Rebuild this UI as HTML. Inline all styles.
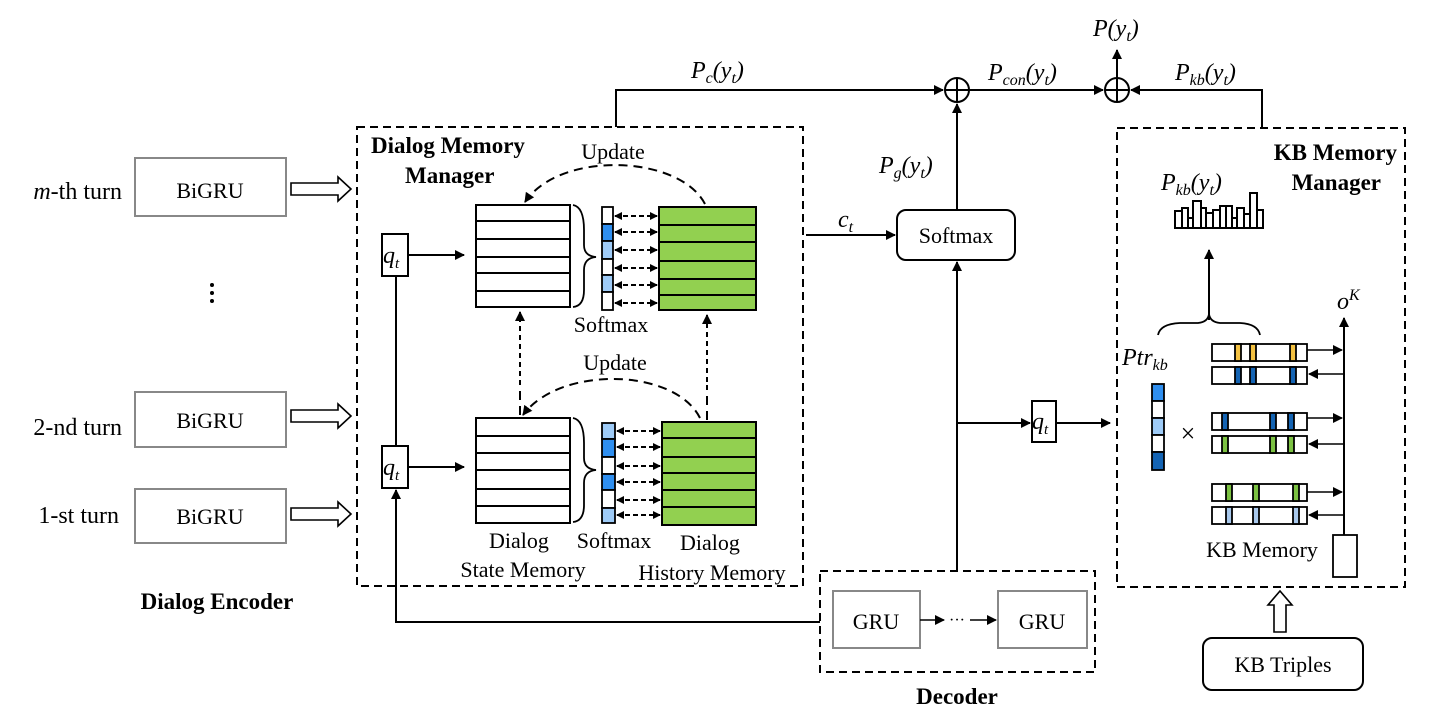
<!DOCTYPE html>
<html><head><meta charset="utf-8"><style>html,body{margin:0;padding:0;background:#fff}svg{display:block}text{font-family:"Liberation Serif",serif;fill:#000}.i{font-style:italic}.b{font-weight:bold}</style></head><body>
<svg width="1430" height="720" viewBox="0 0 1430 720" xmlns="http://www.w3.org/2000/svg">
<defs>
<marker id="a" markerWidth="10" markerHeight="10" refX="9" refY="5" orient="auto" markerUnits="userSpaceOnUse"><path d="M0,0 L10,5 L0,10 z" fill="#000"/></marker>
<marker id="s" markerWidth="8" markerHeight="8" refX="7" refY="4" orient="auto-start-reverse" markerUnits="userSpaceOnUse"><path d="M0,0 L8,4 L0,8 z" fill="#000"/></marker>
</defs>
<g stroke="#000" stroke-width="2" fill="none">
<rect x="357" y="127" width="446" height="459" stroke-dasharray="8,5"/>
<rect x="1117" y="128" width="288" height="459" stroke-dasharray="8,5"/>
<rect x="820" y="571" width="275" height="101" stroke-dasharray="8,5"/>
</g>
<g stroke="#888" stroke-width="2" fill="#fff">
<rect x="135" y="158" width="151" height="58"/>
<rect x="135" y="392" width="151" height="55"/>
<rect x="135" y="489" width="151" height="54"/>
<rect x="833" y="591" width="87" height="57"/>
<rect x="998" y="591" width="89" height="57"/>
</g>
<g font-size="22" text-anchor="middle">
<text x="210" y="198">BiGRU</text><text x="210" y="428">BiGRU</text><text x="210" y="524">BiGRU</text>
<text x="876" y="629">GRU</text><text x="1042" y="629">GRU</text>
</g>
<g font-size="24" text-anchor="end">
<text x="122" y="199"><tspan class="i">m</tspan>-th turn</text>
<text x="122" y="435">2-nd turn</text>
<text x="119" y="523">1-st turn</text>
</g>
<g fill="#000"><circle cx="212" cy="285" r="2"/><circle cx="212" cy="293" r="2"/><circle cx="212" cy="301" r="2"/></g>
<text x="217" y="609" font-size="23" class="b" text-anchor="middle">Dialog Encoder</text>
<text x="957" y="704" font-size="23" class="b" text-anchor="middle">Decoder</text>
<g stroke="#000" stroke-width="1.6" fill="#fff">
<path d="M291,183 H338 V177 L351,189 L338,201 V195 H291 Z"/>
<path d="M291,410 H338 V404 L351,416 L338,428 V422 H291 Z"/>
<path d="M291,508 H338 V502 L351,514 L338,526 V520 H291 Z"/>
<path d="M1274,632 V605 H1268 L1280,591 L1292,605 H1286 V632 Z"/>
</g>
<text x="371" y="153" font-size="23" class="b">Dialog Memory</text>
<text x="405" y="183" font-size="23" class="b">Manager</text>
<g stroke="#000" stroke-width="2" fill="none">
<line x1="396" y1="276" x2="396" y2="446"/>
<polyline points="820,622 396,622 396,490" marker-end="url(#a)"/>
<line x1="409" y1="255" x2="464" y2="255" marker-end="url(#a)"/>
<line x1="409" y1="467" x2="464" y2="467" marker-end="url(#a)"/>
</g>
<g stroke="#000" stroke-width="2" fill="#fff">
<rect x="382" y="234" width="26" height="42"/>
<rect x="382" y="446" width="26" height="42"/>
<rect x="1032" y="401" width="24" height="41"/>
</g>
<g font-size="24" class="i"><text x="383" y="263">q<tspan font-size="15" dy="5">t</tspan></text><text x="383" y="475">q<tspan font-size="15" dy="5">t</tspan></text><text x="1032" y="429">q<tspan font-size="15" dy="5">t</tspan></text></g>
<g stroke="#000" stroke-width="2" fill="#fff">
<rect x="476" y="205" width="94" height="102"/>
<path d="M476,221 H570 M476,239 H570 M476,257 H570 M476,273 H570 M476,291 H570"/>
<rect x="476" y="418" width="94" height="105"/>
<path d="M476,436 H570 M476,453 H570 M476,470 H570 M476,489 H570 M476,506 H570"/>
</g>
<g stroke="#000" stroke-width="1.8" fill="none">
<path d="M573,205 Q584,207 584,230 L584,245 Q584,256 596,257 Q584,258 584,270 L584,290 Q584,306 573,307"/>
<path d="M573,418 Q584,420 584,443 L584,458 Q584,469 596,470 Q584,471 584,483 L584,505 Q584,521 573,522"/>
<path d="M1158,335 Q1160,324 1180,323 L1198,323 Q1208,322 1209,314 Q1210,322 1220,323 L1240,323 Q1258,324 1260,335"/>
</g>
<g stroke="#000" stroke-width="1.8">
<rect x="602" y="207" width="11" height="17" fill="#fff"/><rect x="602" y="224" width="11" height="17" fill="#2f8ff0"/><rect x="602" y="241" width="11" height="18" fill="#9ecbf7"/><rect x="602" y="259" width="11" height="16" fill="#fff"/><rect x="602" y="275" width="11" height="17" fill="#9ecbf7"/><rect x="602" y="292" width="11" height="18" fill="#fff"/>
<rect x="602" y="423" width="13" height="16" fill="#9ecbf7"/><rect x="602" y="439" width="13" height="18" fill="#2f8ff0"/><rect x="602" y="457" width="13" height="17" fill="#fff"/><rect x="602" y="474" width="13" height="16" fill="#2f8ff0"/><rect x="602" y="490" width="13" height="18" fill="#fff"/><rect x="602" y="508" width="13" height="15" fill="#9ecbf7"/>
</g>
<g stroke="#000" stroke-width="2" fill="#92d050">
<rect x="659" y="207" width="97" height="103"/>
<path d="M659,225 H756 M659,242 H756 M659,261 H756 M659,279 H756 M659,295 H756" fill="none"/>
<rect x="662" y="422" width="94" height="103"/>
<path d="M662,438 H756 M662,457 H756 M662,473 H756 M662,490 H756 M662,507 H756" fill="none"/>
</g>
<g stroke="#000" stroke-width="2" stroke-dasharray="5,3" marker-start="url(#s)" marker-end="url(#s)">
<line x1="615" y1="216" x2="657" y2="216"/><line x1="615" y1="232" x2="657" y2="232"/><line x1="615" y1="250" x2="657" y2="250"/><line x1="615" y1="268" x2="657" y2="268"/><line x1="615" y1="285" x2="657" y2="285"/><line x1="615" y1="303" x2="657" y2="303"/>
<line x1="617" y1="431" x2="660" y2="431"/><line x1="617" y1="447" x2="660" y2="447"/><line x1="617" y1="466" x2="660" y2="466"/><line x1="617" y1="482" x2="660" y2="482"/><line x1="617" y1="500" x2="660" y2="500"/><line x1="617" y1="515" x2="660" y2="515"/>
</g>
<g stroke="#000" stroke-width="2" fill="none" stroke-dasharray="9,6">
<path d="M705,204 C680,155 560,150 525,202" marker-end="url(#a)"/>
<path d="M700,418 C675,368 560,365 523,415" marker-end="url(#a)"/>
<line x1="520" y1="415" x2="520" y2="390"/><line x1="520" y1="385" x2="520" y2="312" marker-end="url(#a)" stroke-dasharray="5,4"/>
<line x1="707" y1="420" x2="707" y2="385"/><line x1="707" y1="382" x2="707" y2="315" marker-end="url(#a)" stroke-dasharray="5,4"/>
</g>
<g font-size="22" text-anchor="middle">
<text x="613" y="159">Update</text><text x="615" y="370">Update</text>
<text x="611" y="332">Softmax</text><text x="614" y="548">Softmax</text>
<text x="519" y="548">Dialog</text><text x="523" y="577">State Memory</text>
<text x="710" y="550">Dialog</text><text x="712" y="580">History Memory</text>
</g>
<g stroke="#000" stroke-width="2" fill="none">
<polyline points="616,127 616,90 943,90" marker-end="url(#a)"/>
<circle cx="957" cy="90" r="12"/><path d="M945,90 H969 M957,78 V102"/>
<line x1="969" y1="90" x2="1103" y2="90" marker-end="url(#a)"/>
<circle cx="1117" cy="90" r="12"/><path d="M1105,90 H1129 M1117,78 V102"/>
<line x1="1117" y1="78" x2="1117" y2="50" marker-end="url(#a)"/>
<polyline points="1262,128 1262,90 1131,90" marker-end="url(#a)"/>
<line x1="957" y1="210" x2="957" y2="104" marker-end="url(#a)"/>
<line x1="806" y1="235" x2="895" y2="235" marker-end="url(#a)"/>
<line x1="957" y1="571" x2="957" y2="262" marker-end="url(#a)"/>
<line x1="957" y1="423" x2="1030" y2="423" marker-end="url(#a)"/>
<line x1="1056" y1="423" x2="1110" y2="423" marker-end="url(#a)"/>
<line x1="920" y1="620" x2="944" y2="620" marker-end="url(#a)" stroke-width="1.5"/>
<line x1="970" y1="620" x2="996" y2="620" marker-end="url(#a)" stroke-width="1.5"/>
<line x1="1209" y1="320" x2="1209" y2="250" marker-end="url(#a)"/>
<line x1="1344" y1="535" x2="1344" y2="318" marker-end="url(#a)"/>
</g>
<text x="957" y="625" font-size="16" text-anchor="middle">···</text>
<rect x="897" y="210" width="118" height="50" rx="9" fill="#fff" stroke="#000" stroke-width="2"/>
<text x="956" y="243" font-size="22" text-anchor="middle">Softmax</text>
<g font-size="24" class="i">
<text x="691" y="78">P<tspan font-size="16" dy="5">c</tspan><tspan dy="-5">(y</tspan><tspan font-size="16" dy="5">t</tspan><tspan dy="-5">)</tspan></text>
<text x="988" y="80">P<tspan font-size="16" dy="5">con</tspan><tspan dy="-5">(y</tspan><tspan font-size="16" dy="5">t</tspan><tspan dy="-5">)</tspan></text>
<text x="1093" y="36">P(y<tspan font-size="16" dy="5">t</tspan><tspan dy="-5">)</tspan></text>
<text x="1175" y="80">P<tspan font-size="16" dy="5">kb</tspan><tspan dy="-5">(y</tspan><tspan font-size="16" dy="5">t</tspan><tspan dy="-5">)</tspan></text>
<text x="879" y="173">P<tspan font-size="16" dy="5">g</tspan><tspan dy="-5">(y</tspan><tspan font-size="16" dy="5">t</tspan><tspan dy="-5">)</tspan></text>
<text x="1161" y="190">P<tspan font-size="16" dy="5">kb</tspan><tspan dy="-5">(y</tspan><tspan font-size="16" dy="5">t</tspan><tspan dy="-5">)</tspan></text>
<text x="838" y="227">c<tspan font-size="16" dy="5">t</tspan></text>
<text x="1122" y="365">Ptr<tspan font-size="16" dy="5">kb</tspan></text>
<text x="1337" y="309">o<tspan font-size="16" dy="-9">K</tspan></text>
</g>
<text x="1397" y="160" font-size="23" class="b" text-anchor="end">KB Memory</text>
<text x="1381" y="190" font-size="23" class="b" text-anchor="end">Manager</text>
<g stroke="#000" stroke-width="2" fill="#fff">
<rect x="1175" y="211" width="7" height="17"/><rect x="1182" y="208" width="6" height="20"/><rect x="1188" y="218" width="5" height="10"/><rect x="1193" y="201" width="8" height="27"/><rect x="1201" y="208" width="5" height="20"/><rect x="1206" y="213" width="7" height="15"/><rect x="1213" y="210" width="7" height="18"/><rect x="1220" y="206" width="6" height="22"/><rect x="1226" y="206" width="6" height="22"/><rect x="1232" y="218" width="5" height="10"/><rect x="1237" y="208" width="7" height="20"/><rect x="1244" y="214" width="6" height="14"/><rect x="1250" y="193" width="7" height="35"/><rect x="1257" y="210" width="6" height="18"/>
</g>
<g stroke="#000" stroke-width="1.8">
<rect x="1152" y="384" width="12" height="17" fill="#2f8ff0"/><rect x="1152" y="401" width="12" height="17" fill="#fff"/><rect x="1152" y="418" width="12" height="17" fill="#9ecbf7"/><rect x="1152" y="435" width="12" height="17" fill="#fff"/><rect x="1152" y="452" width="12" height="18" fill="#1464b4"/>
</g>
<text x="1188" y="442" font-size="26" text-anchor="middle">×</text>
<g stroke="#000" stroke-width="1.8">
<rect x="1212" y="344" width="95" height="17" fill="#fff"/><rect x="1235" y="344" width="6" height="17" fill="#f5c242"/><rect x="1250" y="344" width="6" height="17" fill="#f5c242"/><rect x="1290" y="344" width="6" height="17" fill="#f5c242"/>
<rect x="1212" y="367" width="95" height="17" fill="#fff"/><rect x="1235" y="367" width="6" height="17" fill="#1464b4"/><rect x="1250" y="367" width="6" height="17" fill="#1464b4"/><rect x="1290" y="367" width="6" height="17" fill="#1464b4"/>
<rect x="1212" y="413" width="95" height="17" fill="#fff"/><rect x="1222" y="413" width="6" height="17" fill="#1464b4"/><rect x="1270" y="413" width="6" height="17" fill="#1464b4"/><rect x="1288" y="413" width="6" height="17" fill="#1464b4"/>
<rect x="1212" y="436" width="95" height="17" fill="#fff"/><rect x="1222" y="436" width="6" height="17" fill="#7cc242"/><rect x="1270" y="436" width="6" height="17" fill="#7cc242"/><rect x="1288" y="436" width="6" height="17" fill="#7cc242"/>
<rect x="1212" y="484" width="95" height="17" fill="#fff"/><rect x="1226" y="484" width="6" height="17" fill="#7cc242"/><rect x="1253" y="484" width="6" height="17" fill="#7cc242"/><rect x="1293" y="484" width="6" height="17" fill="#7cc242"/>
<rect x="1212" y="507" width="95" height="17" fill="#fff"/><rect x="1226" y="507" width="6" height="17" fill="#a8c8ec"/><rect x="1253" y="507" width="6" height="17" fill="#a8c8ec"/><rect x="1293" y="507" width="6" height="17" fill="#a8c8ec"/>
</g>
<g stroke="#000" stroke-width="1.6">
<line x1="1307" y1="350" x2="1342" y2="350" marker-end="url(#a)"/><line x1="1344" y1="374" x2="1309" y2="374" marker-end="url(#a)"/>
<line x1="1307" y1="418" x2="1342" y2="418" marker-end="url(#a)"/><line x1="1344" y1="444" x2="1309" y2="444" marker-end="url(#a)"/>
<line x1="1307" y1="492" x2="1342" y2="492" marker-end="url(#a)"/><line x1="1344" y1="515" x2="1309" y2="515" marker-end="url(#a)"/>
</g>
<rect x="1333" y="535" width="24" height="42" fill="#fff" stroke="#000" stroke-width="1.8"/>
<text x="1262" y="557" font-size="22" text-anchor="middle">KB Memory</text>
<rect x="1203" y="638" width="160" height="52" rx="9" fill="#fff" stroke="#000" stroke-width="2"/>
<text x="1283" y="672" font-size="22" text-anchor="middle">KB Triples</text>
</svg>
</body></html>
